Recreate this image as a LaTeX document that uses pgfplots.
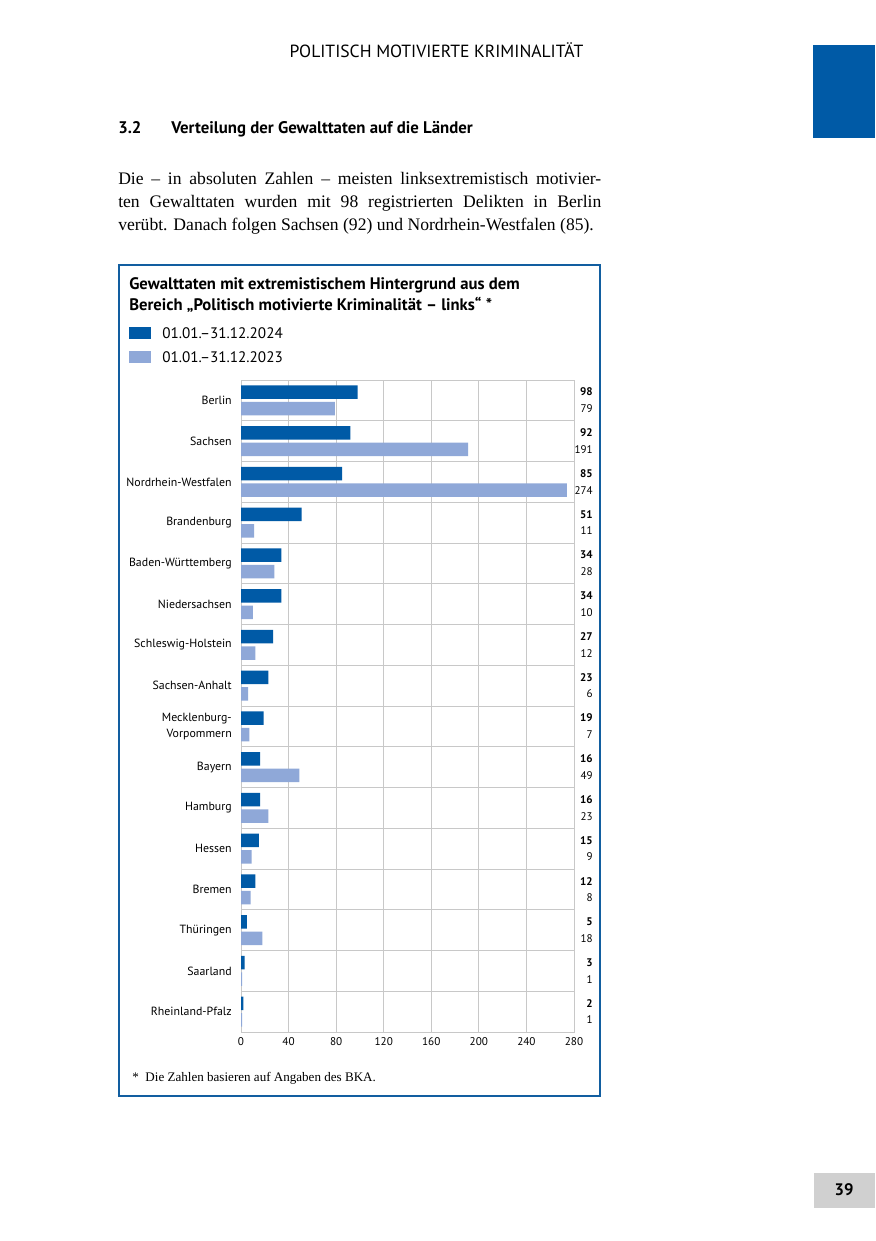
\documentclass[border=0pt]{standalone}
\usepackage{fontspec}
\setmainfont{Liberation Serif}
\newfontfamily\sans{PT Sans}
\usepackage{pgfplots}
\usepackage{pgfplotstable}
\pgfplotsset{compat=1.18}
\definecolor{darkb}{RGB}{0,90,166}
\definecolor{lightb}{RGB}{143,168,216}
\definecolor{frameb}{RGB}{18,94,160}
\definecolor{gridg}{RGB}{200,200,200}
\definecolor{pagegray}{RGB}{208,208,208}

\pgfplotstableread{
pos v24 v23
15 98 79
14 92 191
13 85 274
12 51 11
11 34 28
10 34 10
9 27 12
8 23 6
7 19 7
6 16 49
5 16 23
4 15 9
3 12 8
2 5 18
1 3 1
0 2 1
}\data

\begin{document}
\begin{tikzpicture}
\begin{scope}[x=0.75pt,y=-0.75pt]
\useasboundingbox (0,0) rectangle (875,1241);
\fill[white] (0,0) rectangle (875,1241);
% header
\node[font=\sans\fontsize{13.2}{15}\selectfont, anchor=base, inner sep=0pt] at (436.5,57.5) {POLITISCH MOTIVIERTE KRIMINALITÄT};
\fill[darkb] (813,45) rectangle (875,138);
% section heading
\node[font=\sans\bfseries\fontsize{12.6}{15}\selectfont, anchor=base west, inner sep=0pt] at (118,133.5) {3.2};
\node[font=\sans\bfseries\fontsize{12.6}{15}\selectfont, anchor=base west, inner sep=0pt] at (171,133.5) {Verteilung der Gewalttaten auf die Länder};
% body text
\node[anchor=base west, inner sep=0pt, font=\fontsize{13.2}{17.25}\selectfont, align=left] at (118,185)
 {\makebox[362.25pt][s]{Die – in absoluten Zahlen – meisten linksextremistisch motivier-}};
\node[anchor=base west, inner sep=0pt, font=\fontsize{13.2}{17.25}\selectfont, align=left] at (118,208)
 {\makebox[362.25pt][s]{ten Gewalttaten wurden mit 98 registrierten Delikten in Berlin}};
\node[anchor=base west, inner sep=0pt, font=\fontsize{13.2}{17.25}\selectfont, align=left] at (118,231)
 {verübt. Danach folgen Sachsen (92) und Nordrhein-Westfalen (85).};
% chart frame
\draw[frameb, line width=1.6pt] (119,265) rectangle (600,1096);
% chart title
\node[anchor=base west, inner sep=0pt, font=\sans\bfseries\fontsize{12.5}{16.5}\selectfont] at (129,289.5)
 {Gewalttaten mit extremistischem Hintergrund aus dem};
\node[anchor=base west, inner sep=0pt, font=\sans\bfseries\fontsize{12.5}{16.5}\selectfont] at (129,310.5)
 {Bereich „Politisch motivierte Kriminalität – links“ *};
% legend
\fill[darkb] (129,327) rectangle (151,339);
\fill[lightb] (129,351) rectangle (151,363);
\node[anchor=west, inner sep=0pt, font=\sans\fontsize{11.4}{13}\selectfont] at (162,333) {01.01.–31.12.2024};
\node[anchor=west, inner sep=0pt, font=\sans\fontsize{11.4}{13}\selectfont] at (162,357) {01.01.–31.12.2023};
% footnote
\node[anchor=base west, inner sep=0pt, font=\fontsize{9.8}{12}\selectfont] at (132,1081) {*\hspace{5pt}Die Zahlen basieren auf Angaben des BKA.};
% page number
\fill[pagegray] (814,1173) rectangle (875,1208);
\node[font=\sans\bfseries\fontsize{12.5}{14}\selectfont] at (844,1190) {39};
\coordinate (AX) at (241,1032);
\end{scope}
\begin{axis}[
  at={(AX)}, anchor=south west,
  scale only axis, width=249.75pt, height=489pt,
  xmin=0, xmax=280, ymin=-0.5, ymax=15.5,
  xtick={0,40,...,280},
  ytick={0,...,15},
  yticklabels={Rheinland-Pfalz, Saarland, Thüringen, Bremen, Hessen, Hamburg, Bayern, {Mecklenburg-\\Vorpommern}, Sachsen-Anhalt, Schleswig-Holstein, Niedersachsen, Baden-Württemberg, Brandenburg, Nordrhein-Westfalen, Sachsen, Berlin},
  minor ytick={0.5,1.5,...,14.5},
  xmajorgrids, yminorgrids,
  major grid style={gridg, line width=0.6pt},
  minor grid style={gridg, line width=0.6pt},
  axis line style={gridg, line width=0.6pt},
  major tick length=0pt, minor tick length=0pt,
  tick style={draw=none},
  clip=false,
  /pgf/number format/assume math mode=true,
  xticklabel style={font=\sans\fontsize{8.4}{10}\selectfont, inner sep=0pt, yshift=-4pt},
  yticklabel style={font=\sans\fontsize{8.9}{12}\selectfont, inner sep=0pt, xshift=-6.75pt, align=right},
]
\addplot[xbar, bar width=10.2pt, bar shift=6.2pt, draw=none, fill=darkb] table[x=v24, y=pos] {\data};
\addplot[xbar, bar width=10.2pt, bar shift=-6.2pt, draw=none, fill=lightb] table[x=v23, y=pos] {\data};
\addplot[draw=none, mark=none, nodes near coords, point meta=explicit symbolic,
  nodes near coords style={anchor=east, inner sep=0pt, xshift=14.25pt, yshift=6.2pt, font=\sans\bfseries\fontsize{8.3}{10}\selectfont}]
  table[x expr={280}, y=pos, meta=v24] {\data};
\addplot[draw=none, mark=none, nodes near coords, point meta=explicit symbolic,
  nodes near coords style={anchor=east, inner sep=0pt, xshift=14.25pt, yshift=-6.2pt, font=\sans\fontsize{8.3}{10}\selectfont}]
  table[x expr={280}, y=pos, meta=v23] {\data};
\end{axis}
\end{tikzpicture}
\end{document}
